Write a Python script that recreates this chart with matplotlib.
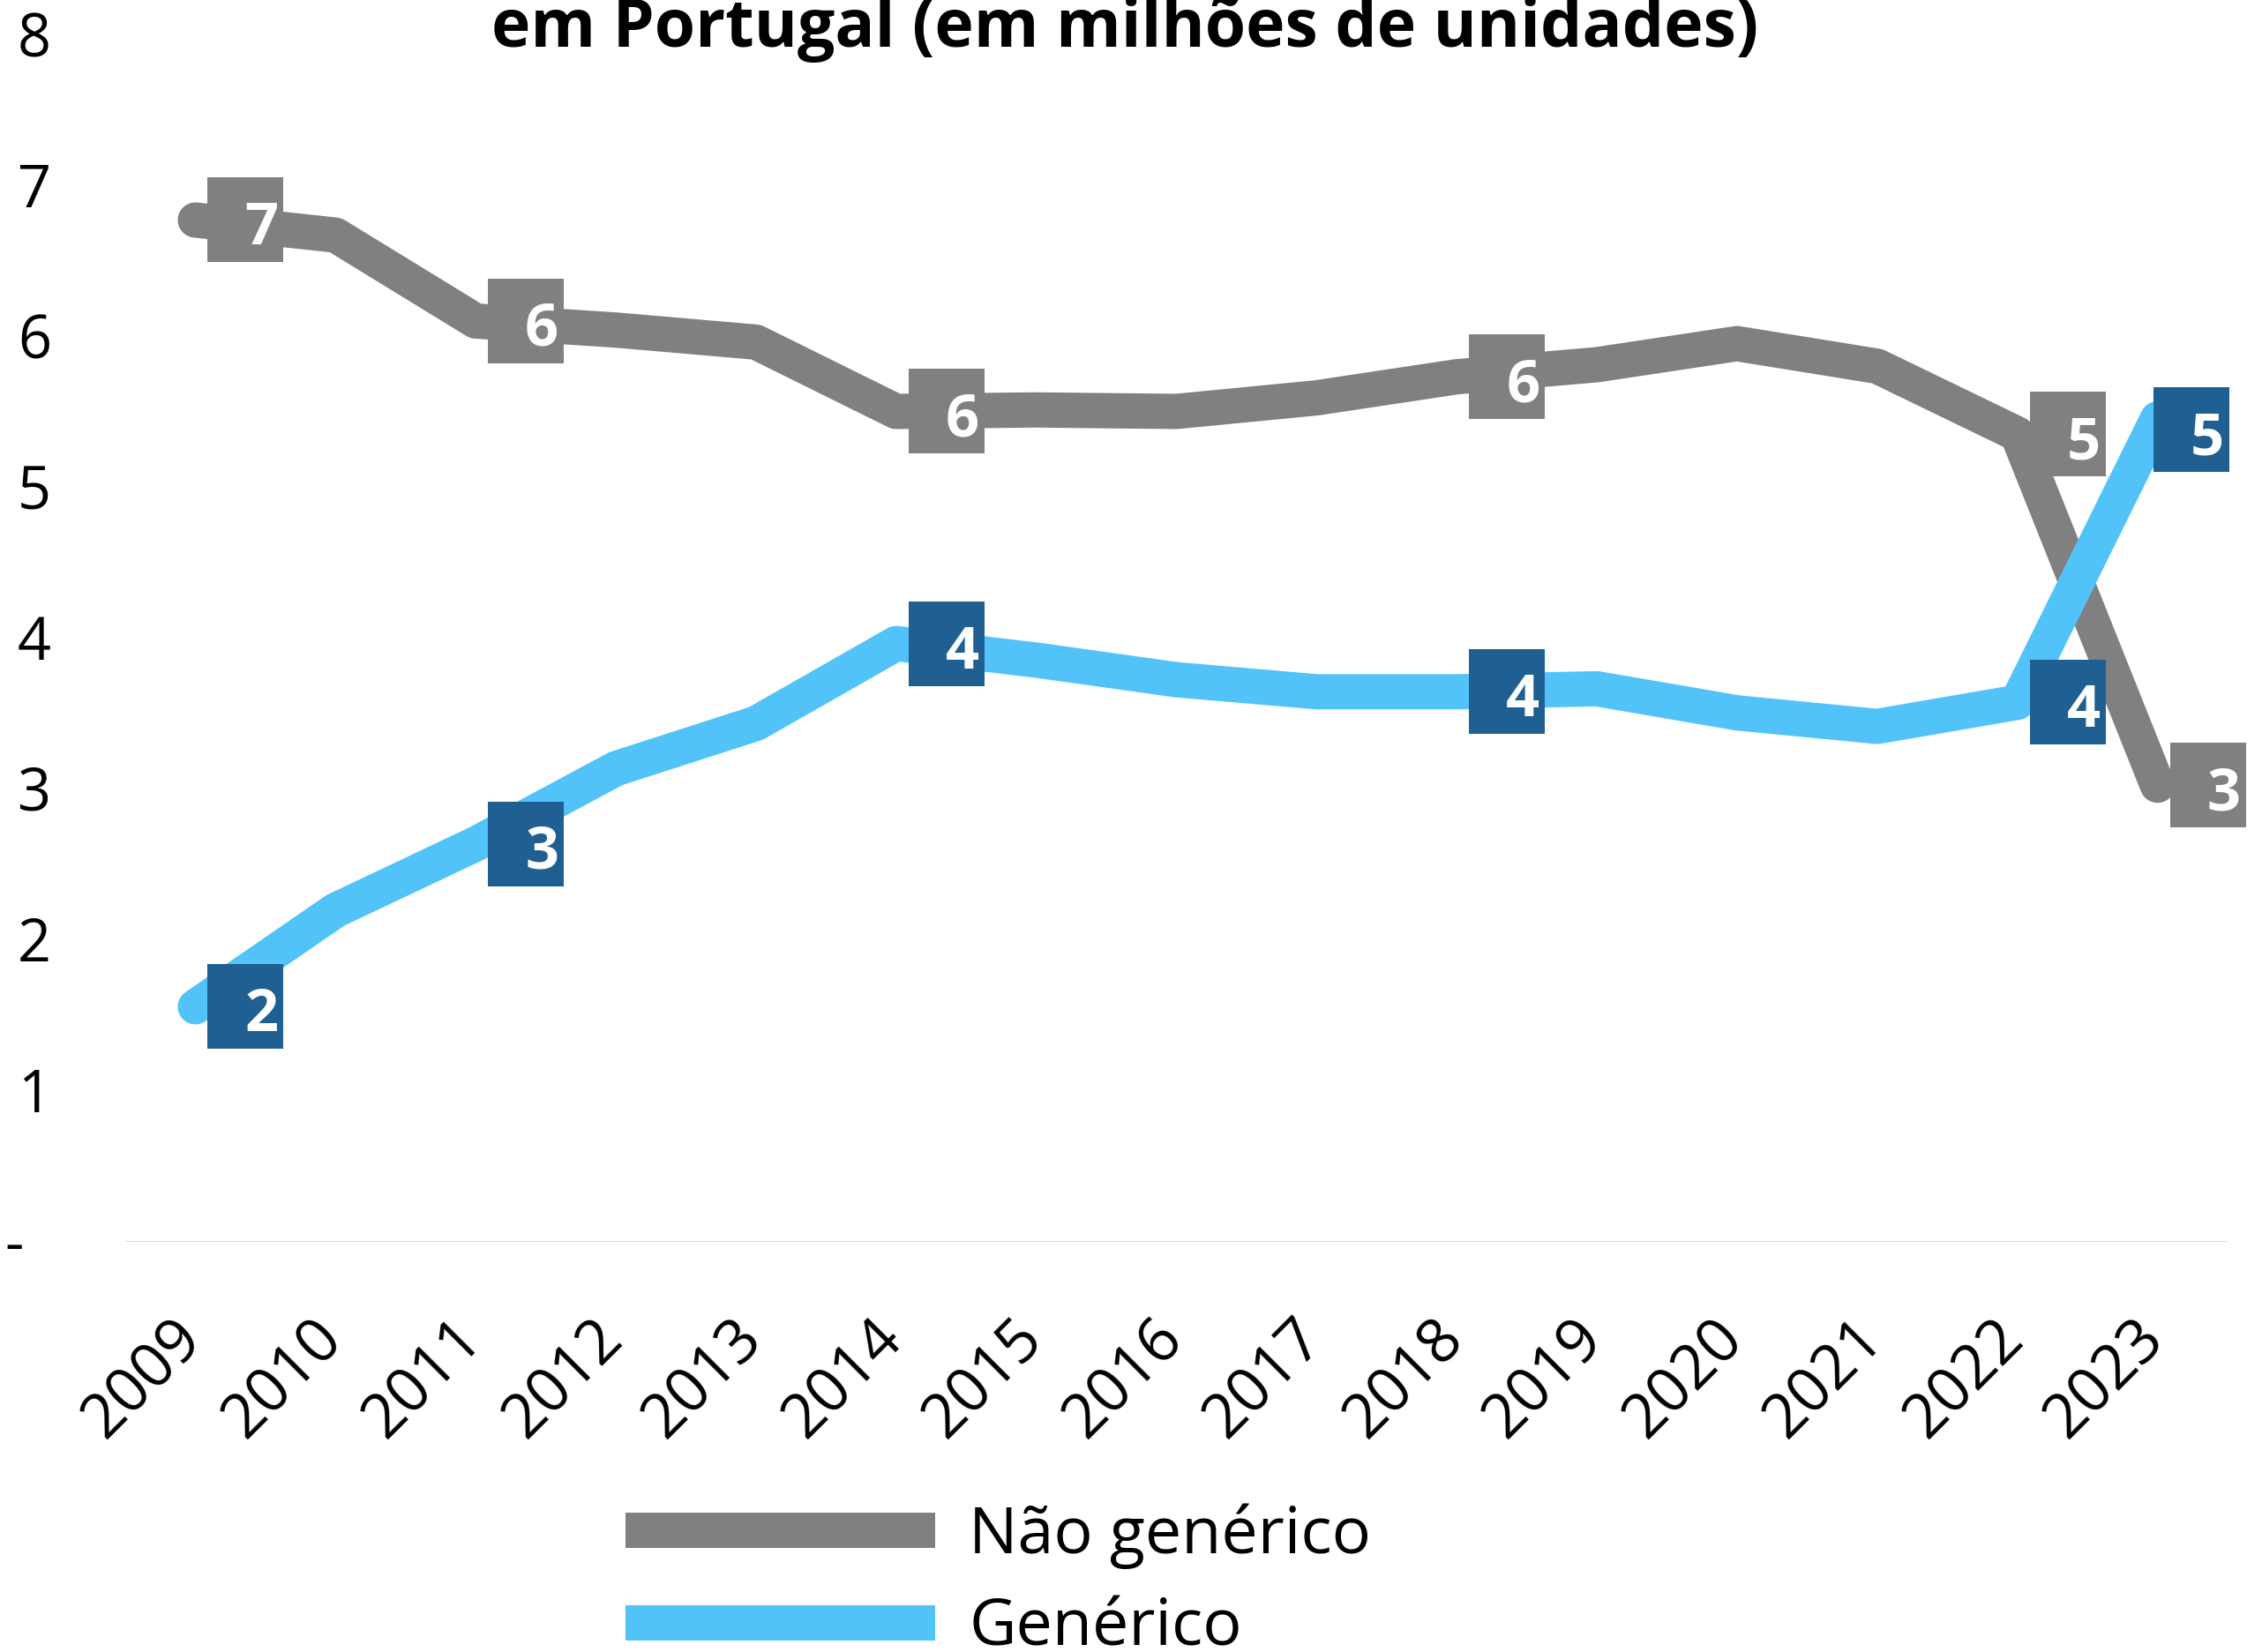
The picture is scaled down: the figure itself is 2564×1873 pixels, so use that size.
import matplotlib
matplotlib.use("Agg")
import matplotlib.pyplot as plt
from matplotlib.lines import Line2D
from matplotlib.transforms import offset_copy, blended_transform_factory

plt.rcParams['font.family'] = ['Open Sans', 'DejaVu Sans']

# ---- data ----
years = ["2009", "2010", "2011", "2012", "2013", "2014", "2015", "2016",
         "2017", "2018", "2019", "2020", "2021", "2022", "2023"]
nao_generico = [6.78, 6.68, 6.11, 6.05, 5.97, 5.51, 5.52, 5.51, 5.60, 5.74,
                5.82, 5.96, 5.81, 5.36, 3.03]
generico = [1.56, 2.20, 2.64, 3.14, 3.44, 3.97, 3.86, 3.73, 3.65, 3.65,
            3.67, 3.51, 3.42, 3.58, 5.46]
label_idx = [0, 2, 5, 9, 13, 14]
series_names = ["Não genérico", "Genérico"]
yticks = [0, 1, 2, 3, 4, 5, 6, 7, 8]
ytick_labels = ["-", "1", "2", "3", "4", "5", "6", "7", "8"]
title = "em Portugal (em milhões de unidades)"

# ---- style ----
W, H = 2564, 1873
DPI = 100
gray = "#808080"
lblue = "#52C3F9"
dblue = "#1F5F91"
lw = 28.8

fig = plt.figure(figsize=(W / DPI, H / DPI), dpi=DPI)
ax_l, ax_r, ax_top, ax_bot = 142, 2525, 41, 1408
ax = fig.add_axes([ax_l / W, 1 - ax_bot / H, (ax_r - ax_l) / W, (ax_bot - ax_top) / H])
ax.set_xlim(-0.5, len(years) - 0.5)
ax.set_ylim(0, 8)
for s in ax.spines.values():
    s.set_visible(False)
ax.set_xticks([])
ax.set_yticks([])
ax.axhline(0, color="#D9D9D9", lw=1.5, zorder=1)

x = list(range(len(years)))
ax.plot(x, nao_generico, color=gray, lw=lw, solid_capstyle='round',
        solid_joinstyle='round', zorder=2, clip_on=False)
ax.plot(x, generico, color=lblue, lw=lw, solid_capstyle='round',
        solid_joinstyle='round', zorder=3, clip_on=False)

# data label boxes (label placed right of point; last blue label nudged inside)
rect = [(-0.45, -0.5), (0.45, -0.5), (0.45, 0.5), (-0.45, 0.5)]
nudge = {(1, 14): (-19, -12)}
for si, (vals, col) in enumerate([(nao_generico, gray), (generico, dblue)]):
    for i in label_idx:
        dx, dy = nudge.get((si, i), (0, 0))
        box_tr = offset_copy(ax.transData, fig=fig, x=57 + dx, y=dy, units='dots')
        txt_tr = offset_copy(ax.transData, fig=fig, x=75 + dx, y=-28 + dy, units='dots')
        ax.plot([x[i]], [vals[i]], ls='none', marker=rect, markersize=69, mew=0,
                color=col, transform=box_tr, zorder=5, clip_on=False)
        ax.text(x[i], vals[i], f"{vals[i]:.0f}", transform=txt_tr, ha='center',
                va='baseline', color='white', fontsize=48, fontweight='bold',
                zorder=6, clip_on=False)

# x labels
xtr = offset_copy(blended_transform_factory(ax.transData, ax.transAxes),
                  fig=fig, x=10, y=-112, units='dots')
for xi, yr in zip(x, years):
    ax.text(xi, 0, yr, transform=xtr, rotation=45, rotation_mode='anchor',
            ha='right', va='baseline', fontsize=50, color='black')

# y labels
ytr_num = offset_copy(blended_transform_factory(fig.transFigure, ax.transData),
                      fig=fig, x=0, y=-23.6, units='dots')
for yv, lab in zip(yticks, ytick_labels):
    if lab == "-":
        ax.text(5 / W, yv, lab, transform=ytr_num, ha='left', va='baseline',
                fontsize=48, color='black')
    else:
        ax.text(58 / W, yv, lab, transform=ytr_num, ha='right', va='baseline',
                fontsize=48, color='black')

# title
fig.text(1275 / W, 1 - 53 / H, title, ha='center', va='baseline',
         fontsize=54, fontweight='bold', color='black')

# legend
handles = [Line2D([], [], color=gray, lw=lw, solid_capstyle='butt'),
           Line2D([], [], color=lblue, lw=lw, solid_capstyle='butt')]
fig.legend(handles, series_names, loc='center left',
           bbox_to_anchor=(709 / W, 1 - 1794 / H), frameon=False, fontsize=53,
           handlelength=4.77, handletextpad=0.52, labelspacing=0.42,
           borderpad=0, borderaxespad=0)

fig.savefig("out.png", dpi=DPI)
